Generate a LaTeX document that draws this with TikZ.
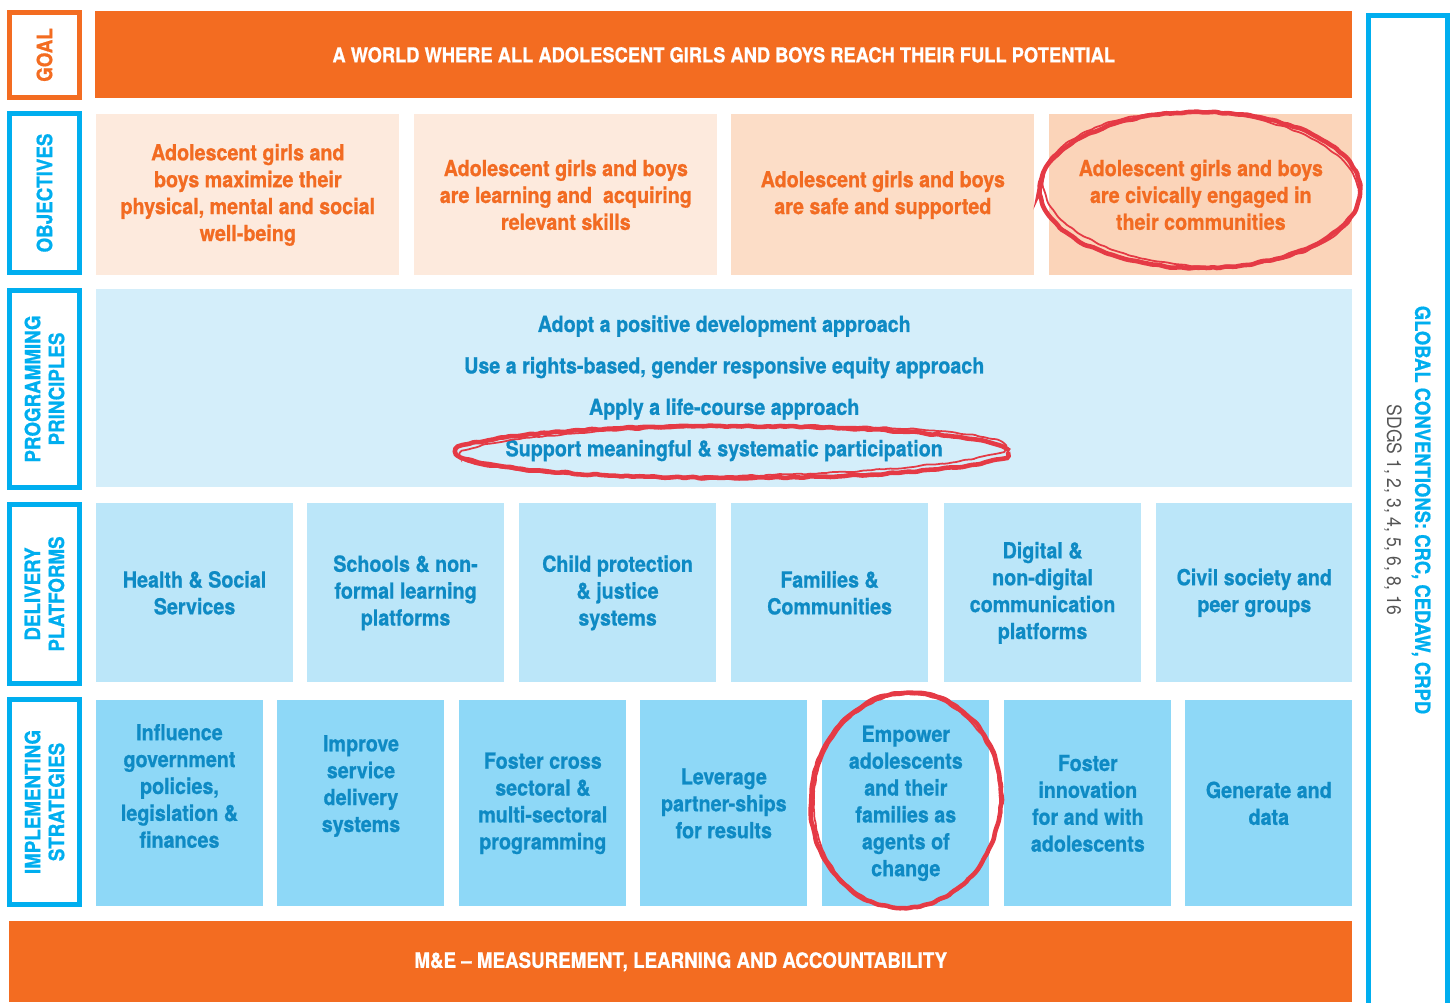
\documentclass[tikz,border=0pt]{standalone}
\usepackage{fontspec}
\setmainfont{TeX Gyre Heros}[FakeStretch=0.89, BoldFeatures={FakeBold=0.8}]
\usetikzlibrary{decorations.pathmorphing}
\definecolor{unorange}{HTML}{F36C21}
\definecolor{uncyan}{HTML}{00AEEF}
\definecolor{unblue}{HTML}{0E8AC4}
\definecolor{objtext}{HTML}{F26B22}
\definecolor{objfillA}{HTML}{FDEADD}
\definecolor{objfillB}{HTML}{FCDDC7}
\definecolor{objfillC}{HTML}{FBD4B9}
\definecolor{prinfill}{HTML}{D4EEFA}
\definecolor{platfill}{HTML}{BBE6F9}
\definecolor{stratfill}{HTML}{8ED8F7}
\definecolor{markred}{HTML}{E53A45}
\definecolor{sdggray}{HTML}{555555}
\begin{document}
\begin{tikzpicture}[
  x=0.02cm, y=-0.02cm,
  cell/.style={rectangle, anchor=north west, inner sep=0pt, align=center, font=\bfseries\fontsize{12.6}{15.3}\selectfont},
  objbox/.style={cell, text=objtext, minimum width=6.06cm, minimum height=3.22cm},
  platbox/.style={cell, fill=platfill, text=unblue, minimum width=3.93cm, minimum height=3.58cm},
  stratbox/.style={cell, fill=stratfill, text=unblue, minimum width=3.34cm, minimum height=4.12cm},
  bar/.style={cell, fill=unorange, text=white, font=\bfseries\fontsize{12}{14}\selectfont},
  tag/.style={rectangle, draw=uncyan, text=uncyan, line width=0.1cm, rotate=90, minimum height=1.4cm, align=center, inner sep=0pt, font=\bfseries\fontsize{12}{13.6}\selectfont},
  handmark/.style={draw=markred, line width=2.6pt, decorate, decoration={random steps, segment length=3pt, amplitude=0.5pt}, rounded corners=1pt},
  font=\small
]
\useasboundingbox (0,0) rectangle (1455,1002);
\pgfmathsetseed{7}

\node[tag, draw=unorange, text=unorange, minimum width=1.7cm] (goaltag) at (44.5,55) {GOAL};
\node[tag, minimum width=3.18cm] (objtag) at (44.5,193) {OBJECTIVES};
\node[tag, minimum width=3.94cm] (printag) at (44.5,389) {PROGRAMMING\\PRINCIPLES};
\node[tag, minimum width=3.58cm] (plattag) at (44.5,594) {DELIVERY\\PLATFORMS};
\node[tag, minimum width=4.1cm] (strattag) at (44.5,802) {IMPLEMENTING\\STRATEGIES};

\node[bar, minimum width=25.14cm, minimum height=1.74cm, font=\bfseries\fontsize{11.7}{14}\selectfont] (goal) at (95,11) {A WORLD WHERE ALL ADOLESCENT GIRLS AND BOYS REACH THEIR FULL POTENTIAL};

\node[objbox, fill=objfillA] (obj1) at (96,114) {Adolescent girls and\\boys maximize their\\physical, mental and social\\well-being};
\node[objbox, fill=objfillA] (obj2) at (414,114) {Adolescent girls and boys\\are learning and\ \ acquiring\\relevant skills};
\node[objbox, fill=objfillB] (obj3) at (731,114) {Adolescent girls and boys\\are safe and supported};
\node[objbox, fill=objfillC] (obj4) at (1049,114) {Adolescent girls and boys\\are civically engaged in\\their communities};

\node[cell, fill=prinfill, text=unblue, minimum width=25.12cm, minimum height=3.96cm, font=\bfseries\fontsize{12.6}{23.6}\selectfont] (princ) at (96,289) {Adopt a positive development approach\\Use a rights-based, gender responsive equity approach\\Apply a life-course approach\\Support meaningful \& systematic participation};

\node[platbox] (plat1) at (96,503) {Health \& Social\\Services};
\node[platbox] (plat2) at (307,503) {Schools \& non-\\formal learning\\platforms};
\node[platbox] (plat3) at (519,503) {Child protection\\\& justice\\systems};
\node[platbox] (plat4) at (731,503) {Families \&\\Communities};
\node[platbox] (plat5) at (944,503) {Digital \&\\non-digital\\communication\\platforms};
\node[platbox, minimum width=3.92cm] (plat6) at (1156,503) {Civil society and\\peer groups};

\node[stratbox] (strat1) at (96,700) {};
\node[cell, anchor=center, text=unblue] (strat1txt) at (179.5,786) {Influence\\government\\policies,\\legislation \&\\finances};
\node[stratbox] (strat2) at (277,700) {};
\node[cell, anchor=center, text=unblue] (strat2txt) at (361,786) {Improve\\service\\delivery\\systems};
\node[stratbox] (strat3) at (459,700) {Foster cross\\sectoral \&\\multi-sectoral\\programming};
\node[stratbox] (strat4) at (640,700) {Leverage\\partner-ships\\for results};
\node[stratbox] (strat5) at (822,700) {Empower\\adolescents\\and their\\families as\\agents of\\change};
\node[stratbox] (strat6) at (1004,700) {Foster\\innovation\\for and with\\adolescents};
\node[stratbox] (strat7) at (1185,700) {Generate and\\data};

\node[bar, minimum width=26.86cm, minimum height=1.62cm] (mande) at (9,921) {M\&E -- MEASUREMENT, LEARNING AND ACCOUNTABILITY};

\node[rectangle, draw=uncyan, line width=0.1cm, minimum width=1.58cm, minimum height=19.99cm] (conv) at (1408,515.25) {};
\node[rotate=-90, text=uncyan, font=\bfseries\fontsize{11.8}{14}\selectfont] (convtxt) at (1421,510) {GLOBAL CONVENTIONS: CRC, CEDAW, CRPD};
\node[rotate=-90, text=sdggray, font=\fontsize{11.2}{14}\selectfont] (sdgtxt) at (1393,510) {SDGS 1, 2, 3, 4, 5, 6, 8, 16};

\draw[handmark] (1200,190) ellipse[x radius=160, y radius=78];
\draw[handmark, line width=1pt, rotate around={-3:(1200,190)}] (1201,189) ellipse[x radius=158, y radius=77];
\draw[handmark] (732,452) ellipse[x radius=276, y radius=26];
\draw[handmark, line width=1pt, rotate around={1:(732,452)}] (733,451) ellipse[x radius=273, y radius=25];
\draw[handmark, rotate around={-8:(906,800)}] (906,800) ellipse[x radius=95, y radius=108];
\draw[handmark, line width=1pt, rotate around={-5:(906,800)}] (907,801) ellipse[x radius=93, y radius=107];
\end{tikzpicture}
\end{document}
